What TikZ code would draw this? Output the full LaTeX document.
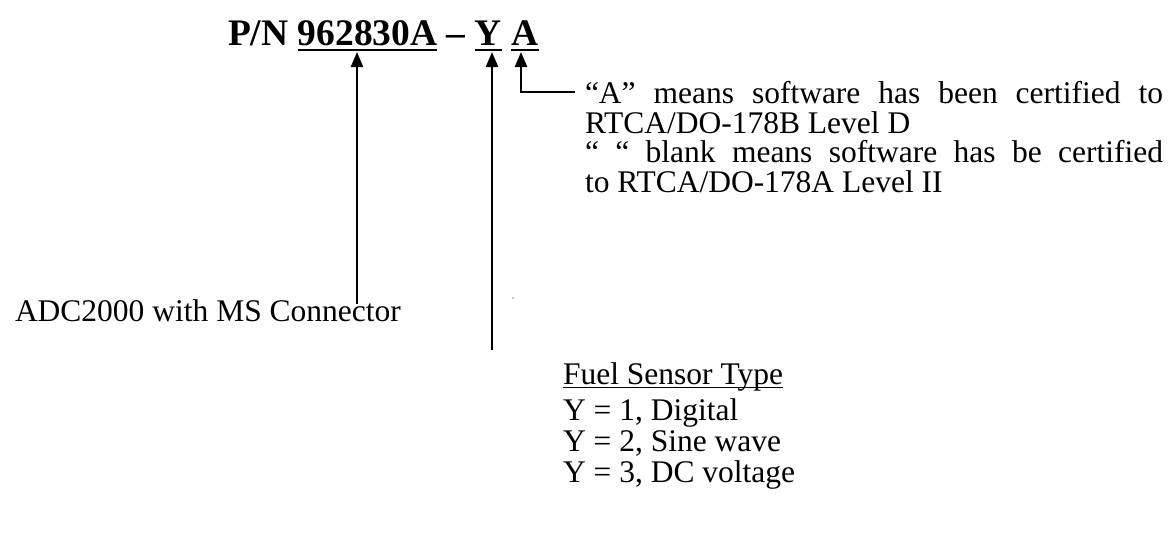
\documentclass[tikz,border=0pt]{standalone}
\usepackage{fontspec}
\setmainfont{Liberation Serif}
\usetikzlibrary{arrows.meta}
\begin{document}
\begin{tikzpicture}[x=1pt,y=-1pt,
  every node/.style={inner sep=0pt, outer sep=0pt, anchor=base west},
  body/.style={font=\fontsize{31.5}{31}\selectfont},
  ttl/.style={font=\fontsize{37.5}{40}\selectfont\bfseries},
  arr/.style={line width=2.4pt, -{Triangle[width=12pt,length=15pt]}},
  ul/.style={line width=2.6pt},
  thinul/.style={line width=1.5pt}]
\useasboundingbox (0,0) rectangle (1175,533);
% title
\node[ttl] (pn) at (228,45) {P/N};
\node[ttl] (num) at ([xshift=9.4pt]pn.base east) {962830A};
\node[ttl] (dash) at ([xshift=9.4pt]num.base east) {–};
\node[ttl] (yy) at ([xshift=9.4pt]dash.base east) {Y};
\node[ttl] (aa) at ([xshift=9.4pt]yy.base east) {A};
\draw[ul] ([yshift=-5pt]num.base west) -- ([yshift=-5pt]num.base east);
\draw[ul] ([yshift=-5pt]yy.base west) -- ([yshift=-5pt]yy.base east);
\draw[ul] ([yshift=-5pt]aa.base west) -- ([yshift=-5pt]aa.base east);
% labels
\node[body] (adc) at (15,321) {ADC2000 with MS Connector};
\node[body] (r1) at (585,103) {\makebox[578pt][s]{“A” means software has been certified to}};
\node[body] (r2) at (585,133) {RTCA/DO-178B Level D};
\node[body] (r3) at (585,162) {\makebox[578pt][s]{“ “ blank means software has be certified}};
\node[body] (r4) at (585,192) {to RTCA/DO-178A Level II};
\node[body] (f0) at (563,384) {Fuel Sensor Type};
\draw[thinul] ([yshift=-3.5pt]f0.base west) -- ([yshift=-3.5pt]f0.base east);
\node[body] (f1) at (563,420) {Y = 1, Digital};
\node[body] (f2) at (563,451) {Y = 2, Sine wave};
\node[body] (f3) at (563,482) {Y = 3, DC voltage};
% connectors
\coordinate (t1) at (357,52);
\coordinate (t2) at (492,52);
\coordinate (t3) at (521,52);
\coordinate (b1) at (357,304);
\coordinate (b2) at (492,350);
\coordinate (c3) at (521,92);
\coordinate (e3) at (575,92);
\draw[arr] (b1) -- (t1);
\draw[arr] (b2) -- (t2);
\draw[arr] (e3) -- (c3) -- (t3);
\fill (513,298) circle (0.6pt);
\end{tikzpicture}
\end{document}
